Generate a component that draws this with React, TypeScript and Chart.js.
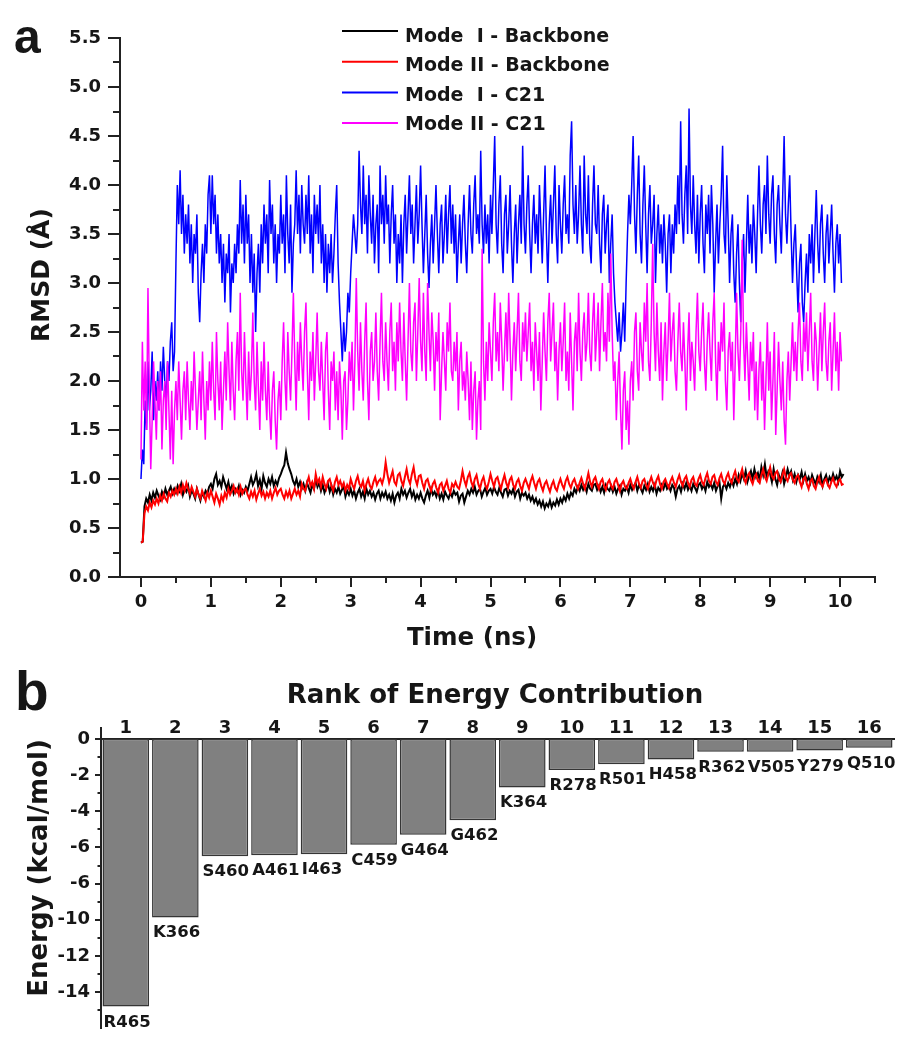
import { useEffect, useRef } from 'react';
import { Chart, registerables } from 'chart.js';

Chart.register(...registerables);

// ---------------- Panel a data ----------------
const SERIES_LABELS = ['Mode  I - Backbone', 'Mode II - Backbone', 'Mode  I - C21', 'Mode II - C21'];
const SERIES_COLORS = ['#000000', '#ff0000', '#0000ff', '#ff00ff'];
const BACKBONE_STEP_NS = 0.025;
const C21_STEP_NS = 0.02;

const modeIBackbone = [
  0.35, 0.36, 0.72, 0.8, 0.76, 0.84, 0.78, 0.86, 0.81, 0.88, 0.83, 0.79, 0.87, 0.82, 0.9, 0.84, 0.88, 0.92, 0.85, 0.9,
  0.86, 0.93, 0.88, 0.95, 0.84, 0.9, 0.87, 0.93, 0.82, 0.88, 0.85, 0.8, 0.9, 0.84, 0.78, 0.86, 0.82, 0.88, 0.85, 0.92,
  0.95, 0.9, 1.0, 1.05, 0.94, 0.98, 0.92, 1.02, 0.96, 0.9, 0.97, 0.88, 0.93, 0.85, 0.9, 0.87, 0.93, 0.84, 0.89, 0.86,
  0.92, 0.88, 0.95, 1.02, 0.94, 0.98, 1.05, 0.93, 0.99, 0.9, 1.03, 0.96, 0.92, 1.0, 0.95, 1.02, 0.93, 0.98, 0.94, 1.01,
  1.05, 1.1, 1.14, 1.27, 1.16, 1.1, 1.05, 0.98, 0.94, 1.0, 0.92, 0.97, 0.9, 0.95, 0.88, 0.96, 0.91, 0.86, 0.94, 0.9,
  1.0, 0.92, 0.96, 0.88, 0.94, 0.86, 0.91, 0.95, 0.87, 0.93, 0.84, 0.9, 0.86, 0.92, 0.85, 0.89, 0.93, 0.82, 0.88, 0.84,
  0.9, 0.83, 0.88, 0.8, 0.86, 0.9, 0.82, 0.87, 0.8, 0.9, 0.84, 0.88, 0.82, 0.86, 0.79, 0.85, 0.88, 0.8, 0.86, 0.82,
  0.87, 0.8, 0.84, 0.78, 0.85, 0.76, 0.83, 0.86, 0.8, 0.9, 0.84, 0.88, 0.81, 0.86, 0.9, 0.82, 0.87, 0.79, 0.84, 0.8,
  0.86, 0.8, 0.76, 0.83, 0.88, 0.81, 0.9, 0.84, 0.87, 0.82, 0.88, 0.8, 0.85, 0.79, 0.87, 0.83, 0.8, 0.86, 0.82, 0.88,
  0.84, 0.86, 0.77, 0.83, 0.85, 0.76, 0.82, 0.88, 0.84, 0.9, 0.86, 0.92, 0.84, 0.88, 0.9, 0.82, 0.87, 0.91, 0.84, 0.88,
  0.9, 0.85, 0.92, 0.87, 0.84, 0.91, 0.86, 0.82, 0.89, 0.9, 0.83, 0.88, 0.85, 0.9, 0.82, 0.87, 0.89, 0.8, 0.86, 0.83,
  0.86, 0.8, 0.84, 0.78, 0.82, 0.76, 0.8, 0.74, 0.78, 0.72, 0.77, 0.7, 0.75, 0.72, 0.78, 0.71, 0.76, 0.73, 0.79, 0.74,
  0.8, 0.76, 0.82, 0.78, 0.85, 0.8, 0.86, 0.83, 0.9, 0.86, 0.92, 0.88, 0.94, 0.89, 0.93, 0.87, 0.95, 0.9, 0.88, 0.94,
  0.95, 0.89, 0.93, 0.87, 0.92, 0.86, 0.94, 0.9, 0.88, 0.93, 0.87, 0.92, 0.85, 0.9, 0.93, 0.84, 0.9, 0.88, 0.92, 0.86,
  0.94, 0.89, 0.93, 0.96, 0.88, 0.94, 0.9, 0.86, 0.93, 0.89, 0.95, 0.87, 0.92, 0.88, 0.94, 0.85, 0.91, 0.88, 0.94, 0.9,
  0.96, 0.9, 0.93, 0.88, 0.94, 0.91, 0.82, 0.9, 0.93, 0.87, 0.95, 0.9, 0.96, 0.89, 0.93, 0.88, 0.95, 0.91, 0.87, 0.94,
  0.96, 0.9, 0.94, 0.88, 0.97, 0.92, 0.95, 0.9, 0.96, 0.88, 0.93, 0.97, 0.8, 0.92, 0.95, 0.9, 0.96, 0.92, 0.98, 0.93,
  1.0, 0.95, 1.04, 0.98, 1.06, 1.0, 1.08, 0.97, 1.03, 1.08, 1.0, 1.1, 1.02, 1.06, 0.99, 1.12, 1.04, 1.15, 1.02, 1.08,
  1.05, 0.97, 1.1, 1.0, 0.94, 1.04, 0.98, 1.06, 0.95, 1.02, 1.1, 1.03, 1.08, 0.99, 1.05, 0.97, 1.04, 1.0, 1.07, 0.98,
  1.05, 0.98, 1.02, 0.96, 1.04, 0.99, 0.95, 1.02, 0.97, 1.04, 0.93, 1.0, 1.04, 0.96, 1.02, 0.98, 1.05, 0.99, 1.03, 0.97,
  1.08, 1.02, 1.05,
];

const modeIIBackbone = [
  0.35, 0.36, 0.65, 0.72, 0.68, 0.76, 0.71, 0.78, 0.74, 0.8, 0.75, 0.83, 0.78, 0.85, 0.8, 0.77, 0.86, 0.82, 0.88, 0.84,
  0.9, 0.85, 0.92, 0.86, 0.94, 0.88, 0.96, 0.9, 0.85, 0.92, 0.87, 0.82, 0.9, 0.84, 0.8, 0.88, 0.83, 0.78, 0.86, 0.81,
  0.88, 0.82, 0.76, 0.85, 0.8, 0.74, 0.83, 0.78, 0.86, 0.81, 0.9, 0.84, 0.88, 0.93, 0.86, 0.9, 0.84, 0.92, 0.85, 0.89,
  0.9, 0.84, 0.8, 0.87, 0.82, 0.88, 0.79, 0.85, 0.9, 0.83, 0.87, 0.8, 0.86, 0.82, 0.88, 0.8, 0.86, 0.91, 0.84, 0.88,
  0.9, 0.84, 0.8, 0.87, 0.82, 0.88, 0.8, 0.85, 0.9, 0.84, 0.88, 0.82, 0.95, 0.9, 0.88, 0.96, 1.02, 0.93, 0.97, 0.9,
  1.05, 0.96, 1.0, 0.92, 1.02, 0.95, 0.9, 0.98, 1.0, 0.93, 0.88, 0.97, 1.02, 0.94, 0.98, 0.92, 0.96, 0.88, 0.94, 0.9,
  1.0, 0.94, 0.9, 0.98, 1.03, 0.95, 0.92, 0.98, 0.88, 0.95, 1.0, 0.93, 0.9, 0.97, 1.02, 0.94, 0.98, 1.0, 0.95, 1.02,
  1.17, 1.05, 0.96, 1.02, 1.08, 0.97, 0.94, 1.04, 1.06, 0.98, 0.93, 1.02, 1.1, 1.0, 0.95, 1.05, 1.12, 1.0, 0.94, 1.03,
  1.04, 0.96, 0.9, 0.98, 1.0, 0.93, 0.88, 0.95, 0.98, 0.91, 0.86, 0.94, 0.96, 0.88, 0.93, 0.98, 0.9, 0.86, 0.95, 0.92,
  0.97, 0.92, 0.9, 0.98, 1.08, 0.99, 0.93, 1.02, 1.06, 0.97, 0.92, 1.0, 1.04, 0.95, 0.9, 0.98, 1.02, 0.94, 0.9, 0.97,
  1.05, 0.98, 0.92, 1.0, 1.02, 0.95, 0.9, 0.98, 1.04, 0.96, 0.91, 0.99, 1.02, 0.94, 0.9, 0.97, 1.0, 0.93, 0.88, 0.96,
  1.0, 0.95, 0.9, 0.98, 1.03, 0.96, 0.9, 0.97, 1.0, 0.93, 0.88, 0.95, 0.98, 0.92, 0.87, 0.94, 0.98, 0.91, 0.88, 0.95,
  1.0, 0.94, 0.9, 0.98, 1.02, 0.95, 0.91, 0.97, 1.0, 0.94, 0.9, 0.96, 1.01, 0.95, 0.9, 0.98, 1.06, 0.97, 0.92, 0.99,
  1.02, 0.95, 0.9, 0.97, 1.0, 0.93, 0.89, 0.96, 0.99, 0.93, 0.9, 0.97, 1.0, 0.94, 0.88, 0.95, 0.98, 0.92, 0.9, 0.96,
  1.0, 0.94, 0.9, 0.97, 1.02, 0.95, 0.91, 0.98, 1.0, 0.94, 0.9, 0.97, 1.02, 0.96, 0.92, 0.99, 1.03, 0.95, 0.9, 0.97,
  1.0, 0.95, 0.91, 0.98, 1.02, 0.96, 0.92, 0.99, 1.04, 0.97, 0.93, 1.0, 1.03, 0.96, 0.92, 0.99, 1.02, 0.95, 0.93, 1.0,
  1.04, 0.97, 0.94, 1.01, 1.06, 0.98, 0.95, 1.02, 1.04, 0.97, 0.94, 1.01, 1.05, 0.98, 0.95, 1.02, 1.06, 0.99, 0.96, 1.03,
  1.08, 1.0, 0.97, 1.04, 1.1, 1.01, 0.96, 1.03, 1.06, 0.99, 0.95, 1.02, 1.05, 0.98, 0.96, 1.04, 1.1, 1.02, 0.98, 1.05,
  1.12, 1.03, 1.0, 1.06, 1.08, 1.0, 0.97, 1.04, 1.1, 1.01, 0.98, 1.04, 1.06, 0.99, 0.96, 1.02, 1.04, 0.97, 0.92, 1.0,
  1.02, 0.95, 0.9, 0.98, 1.0, 0.93, 0.9, 0.97, 1.02, 0.95, 0.92, 0.98, 1.0, 0.94, 0.91, 0.97, 1.01, 0.95, 0.92, 0.98,
  1.0, 0.94, 0.95,
];

const modeIC21 = [
  1.0, 1.3, 1.15, 1.8, 1.5, 2.2, 1.7, 1.9, 2.3, 1.6, 2.0, 1.8, 2.1, 1.7, 2.2, 1.9, 2.35, 2.0, 1.8, 2.2, 2.0, 2.4, 2.6, 2.1, 2.3,
  3.2, 4.0, 3.6, 4.15, 3.5, 3.9, 3.3, 3.7, 3.4, 3.8, 3.2, 3.6, 3.0, 3.5, 3.3, 3.7, 2.9, 2.6, 3.1, 3.4, 3.0, 3.6, 3.3, 3.9, 4.1,
  3.5, 4.1, 3.6, 3.9, 3.3, 3.7, 3.2, 3.5, 3.0, 3.4, 2.8, 3.3, 3.1, 3.5, 2.7, 3.2, 3.0, 3.4, 3.1, 3.6, 3.3, 4.05, 3.4, 3.8, 3.2,
  3.9, 3.4, 3.7, 3.0, 3.5, 2.9, 3.3, 2.5, 3.1, 3.4, 2.9, 3.6, 3.2, 3.8, 3.4, 3.7, 3.1, 4.05, 3.5, 3.8, 3.2, 3.6, 3.0, 3.5, 3.3,
  3.9, 3.4, 3.7, 3.1, 4.1, 3.5, 3.2, 3.8, 2.9, 3.4, 3.6, 4.15, 3.5, 3.9, 3.3, 4.0, 3.6, 3.4, 3.9, 3.5, 4.1, 3.3, 3.7, 3.1, 3.9,
  3.5, 3.8, 3.4, 4.0, 3.2, 3.6, 3.0, 3.5, 2.9, 3.4, 3.1, 3.5, 3.0, 3.3, 3.7, 4.0, 3.2, 2.8, 2.5, 2.2, 2.6, 2.3, 2.5, 2.9, 2.7,
  3.1, 3.4, 3.7, 3.5, 3.3, 3.6, 4.35, 3.8, 3.5, 4.2, 3.6, 3.9, 3.3, 4.1, 3.7, 3.4, 3.9, 3.2, 3.6, 3.8, 3.1, 4.2, 3.6, 3.9, 3.4,
  4.1, 3.6, 3.8, 3.2, 3.7, 4.0, 3.4, 3.7, 3.0, 3.5, 3.2, 3.7, 3.0, 3.6, 3.9, 3.3, 3.7, 4.1, 3.5, 3.8, 3.2, 3.6, 4.0, 3.4, 3.7,
  4.2, 3.6, 3.1, 3.5, 3.9, 3.3, 2.95, 3.4, 3.7, 3.2, 3.6, 4.0, 3.5, 3.1, 3.6, 3.8, 3.2, 3.5, 3.9, 3.3, 3.7, 4.0, 3.4, 3.8, 3.3,
  3.7, 3.0, 3.4, 3.7, 3.2, 3.6, 3.9, 3.4, 3.1, 3.6, 4.0, 3.5, 3.3, 3.8, 4.1, 3.5, 3.7, 3.4, 4.35, 3.6, 3.3, 3.8, 3.4, 3.7, 3.2,
  3.9, 3.5, 4.0, 4.5, 3.6, 3.3, 3.8, 4.1, 3.4, 3.1, 3.7, 3.9, 3.3, 3.6, 4.0, 3.4, 3.0, 3.5, 3.8, 3.2, 3.6, 3.9, 3.4, 4.4, 3.6,
  3.3, 3.8, 4.1, 3.5, 3.1, 3.6, 3.9, 3.4, 3.7, 3.3, 4.0, 3.6, 3.2, 3.7, 4.2, 3.5, 3.0, 3.6, 3.9, 3.4, 3.8, 4.2, 3.5, 3.2, 4.0,
  3.6, 3.3, 3.8, 4.1, 3.5, 3.7, 3.4, 4.3, 4.65, 3.8, 3.5, 4.0, 3.4, 3.7, 4.2, 3.6, 3.3, 4.3, 3.7, 3.5, 4.1, 3.4, 3.2, 3.8, 4.2,
  3.6, 3.5, 4.0, 3.4, 3.1, 3.7, 3.9, 3.3, 3.6, 3.8, 3.0, 3.4, 3.7, 3.1, 2.8, 2.6, 2.4, 2.7, 2.3, 2.5, 2.8, 2.4, 3.0, 3.5, 3.9,
  3.6, 4.0, 4.5, 3.7, 3.3, 3.9, 4.3, 3.5, 3.2, 3.8, 4.2, 3.6, 3.1, 3.7, 4.0, 3.4, 3.6, 3.9, 3.0, 3.5, 3.8, 3.3, 3.6, 3.2, 3.7,
  3.4, 2.9, 3.5, 3.7, 3.1, 3.6, 3.3, 3.8, 3.5, 4.1, 3.6, 4.65, 3.7, 3.4, 3.9, 4.2, 3.5, 4.78, 3.8, 3.5, 4.1, 3.6, 3.3, 3.9, 3.2,
  3.7, 4.0, 3.4, 3.1, 3.8, 3.5, 3.9, 3.3, 4.0, 3.6, 2.9, 3.4, 3.8, 3.2, 3.6, 3.9, 4.4, 3.5, 3.3, 4.1, 3.6, 3.0, 3.5, 3.7, 3.1,
  2.8, 3.3, 3.6, 3.0, 2.6, 3.2, 3.5, 2.9, 3.4, 3.9, 3.3, 3.6, 3.2, 3.8, 3.5, 3.1, 3.7, 4.2, 3.6, 3.3, 3.8, 4.0, 3.5, 4.3, 3.7,
  3.4, 3.9, 4.1, 3.5, 3.2, 3.8, 4.0, 3.6, 3.3, 3.9, 4.5, 3.7, 3.4, 3.8, 4.1, 3.5, 3.0, 3.4, 3.6, 3.1, 2.7, 3.2, 3.4, 2.8, 2.6,
  3.0, 3.3, 2.9, 3.5, 3.2, 3.6, 3.0, 3.5, 3.95, 3.4, 3.1, 3.6, 3.8, 3.3, 3.0, 3.5, 3.7, 3.2, 3.5, 3.8, 3.3, 2.9, 3.4, 3.6, 3.2,
  3.5, 3.0,
];

const modeIIC21 = [
  1.2, 2.4, 1.7, 2.2, 1.5, 2.95, 1.9, 1.1, 1.6, 2.2, 1.8, 1.4, 2.0, 1.7, 2.1, 1.3, 1.8, 2.0, 1.5, 2.2, 1.7, 1.2, 1.9, 1.15, 1.7,
  2.0, 1.6, 2.2, 1.8, 1.4, 1.9, 2.1, 1.6, 2.2, 1.8, 1.5, 2.0, 1.7, 2.3, 1.9, 1.5, 1.8, 2.1, 1.6, 2.3, 1.8, 1.4, 2.0, 1.7, 2.2,
  1.8, 2.4, 1.9, 1.6, 2.5, 2.0, 1.7, 2.2, 1.5, 1.9, 2.3, 1.8, 2.6, 2.1, 1.7, 2.4, 1.9, 1.6, 2.2, 2.5, 1.9, 2.9, 2.1, 1.8, 2.5,
  2.0, 1.6, 2.3, 1.8, 2.1, 2.7, 2.0, 1.7, 2.4, 1.9, 1.5, 2.2, 1.8, 2.4, 1.9, 1.6, 2.2, 1.7, 1.4, 1.9, 2.1, 1.6, 1.3, 1.8, 2.0,
  1.6, 2.2, 2.6, 2.0, 1.7, 2.5, 2.1, 1.8, 2.3, 2.9, 2.2, 1.7, 2.4, 2.0, 2.6, 2.2, 1.9, 2.5, 2.8, 2.1, 1.6, 2.3, 2.0, 2.5, 1.8,
  2.2, 2.7, 2.1, 1.9, 2.4, 2.0, 1.6, 2.3, 2.5, 1.9, 1.5, 2.2, 2.0, 2.3, 1.7, 2.1, 1.6, 2.2, 1.9, 1.4, 2.0, 2.1, 1.5, 1.8, 2.3,
  2.0, 2.4, 1.7, 2.2, 3.05, 2.3, 1.9, 2.6, 2.1, 1.8, 2.4, 2.8, 2.0, 1.6, 2.3, 2.5, 2.0, 2.2, 2.7, 2.1, 1.8, 2.4, 2.9, 2.2, 2.0,
  2.6, 2.2, 1.9, 2.5, 2.8, 2.1, 2.4, 1.9, 2.6, 2.2, 2.8, 2.3, 2.0, 2.7, 2.2, 1.8, 2.4, 3.0, 2.3, 2.1, 2.6, 2.8, 2.0, 2.5, 3.05,
  2.4, 2.1, 2.9, 2.3, 2.0, 3.0, 2.5, 2.1, 2.7, 2.4, 1.9, 2.5, 2.2, 2.7, 1.6, 2.1, 2.5, 2.2, 1.9, 2.6, 2.3, 2.8, 2.1, 2.0, 2.4,
  2.1, 2.5, 1.7, 2.2, 2.4, 1.9, 2.1, 1.8, 2.3, 2.0, 1.6, 2.2, 1.5, 1.9, 2.1, 1.4, 1.8, 2.0, 1.5, 3.35, 2.2, 1.8, 2.4, 2.0, 2.6,
  2.3, 2.0, 2.6, 2.9, 2.2, 2.5, 2.1, 2.8, 2.4, 1.9, 2.3, 2.7, 2.2, 2.9, 2.4, 1.8, 2.3, 2.6, 2.1, 2.5, 2.9, 2.2, 2.0, 2.6, 2.3,
  2.7, 2.2, 2.5, 2.8, 2.1, 2.4, 1.9, 2.6, 2.3, 2.0, 2.5, 1.7, 2.2, 2.7, 2.3, 2.0, 2.6, 2.9, 2.2, 2.5, 2.8, 2.1, 2.4, 1.8, 2.3,
  2.6, 2.1, 2.4, 2.8, 2.0, 2.3, 1.9, 2.7, 2.2, 1.7, 2.4, 2.6, 2.1, 2.9, 2.3, 2.0, 2.5, 2.7, 2.2, 2.4, 2.9, 2.3, 2.1, 2.6, 2.9,
  2.2, 2.5, 2.8, 2.1, 2.6, 3.0, 2.3, 2.5, 2.2, 2.9, 2.4, 3.3, 2.5, 2.0, 2.2, 1.6, 2.0, 2.3, 1.7, 1.3, 1.9, 2.1, 1.5, 1.8, 1.35,
  2.0, 2.2, 1.8, 2.5, 2.7, 2.1, 1.9, 2.6, 2.3, 2.1, 2.8, 2.4, 3.0, 2.2, 2.0, 2.6, 3.4, 2.5, 2.1, 2.8, 2.3, 2.0, 2.6, 1.8, 2.3,
  2.6, 2.0, 2.4, 2.9, 2.2, 2.5, 2.7, 2.1, 1.9, 2.4, 2.8, 2.3, 2.1, 2.6, 2.2, 1.7, 2.3, 2.7, 2.0, 2.4, 2.2, 1.9, 2.5, 2.9, 2.3,
  2.1, 2.5, 2.8, 2.2, 1.9, 2.4, 2.7, 2.3, 2.0, 2.6, 2.9, 2.2, 1.8, 2.4, 2.1, 2.6, 2.3, 2.8, 2.0, 1.7, 2.3, 2.5, 2.1, 2.4, 1.6,
  2.2, 2.9, 2.3, 2.0, 2.5, 3.44, 2.4, 2.0, 2.6, 2.2, 1.8, 2.4, 2.1, 2.5, 1.7, 2.2, 1.6, 2.1, 2.4, 1.8, 2.2, 1.5, 2.0, 2.6, 1.9,
  2.3, 1.6, 2.0, 2.5, 1.45, 1.9, 2.4, 2.0, 1.7, 2.2, 1.6, 1.35, 2.0, 2.3, 1.8, 2.2, 2.6, 2.1, 2.4, 2.0, 2.5, 2.8, 2.2, 2.0, 2.6,
  2.3, 2.7, 2.1, 2.5, 2.9, 2.2, 2.0, 2.6, 2.4, 1.9, 2.3, 2.7, 2.1, 2.5, 2.8, 2.2, 2.0, 2.4, 2.6, 1.9, 2.3, 2.7, 2.1, 2.4, 1.9,
  2.5, 2.2,
];

const SERIES_VALUES = [modeIBackbone, modeIIBackbone, modeIC21, modeIIC21];
const SERIES_STEPS = [BACKBONE_STEP_NS, BACKBONE_STEP_NS, C21_STEP_NS, C21_STEP_NS];
const SERIES_WIDTHS = [2, 2, 1.5, 1.5];
const SERIES_ORDER = [3, 2, 1, 0];

const TIME_MIN = -0.3;
const TIME_MAX = 10.5;
const RMSD_MIN = 0;
const RMSD_MAX = 5.5;
const X_TITLE_A = 'Time (ns)';
const Y_TITLE_A = 'RMSD (Å)';

// ---------------- Panel b data ----------------
const RANKS = ['1', '2', '3', '4', '5', '6', '7', '8', '9', '10', '11', '12', '13', '14', '15', '16'];
const RESIDUES = ['R465', 'K366', 'S460', 'A461', 'I463', 'C459', 'G464', 'G462', 'K364', 'R278', 'R501', 'H458', 'R362', 'V505', 'Y279', 'Q510'];
const ENERGIES = [-14.8, -9.87, -6.49, -6.43, -6.38, -5.85, -5.3, -4.5, -2.68, -1.72, -1.4, -1.13, -0.7, -0.7, -0.64, -0.48];
const ENERGY_TICK_LABELS = ['0', '-2', '-4', '-6', '-6', '-10', '-12', '-14'];
const ENERGY_MIN = -16;
const ENERGY_MAX = 0;
const X_TITLE_B = 'Rank of Energy Contribution';
const Y_TITLE_B = 'Energy (kcal/mol)';

// ---------------- styles ----------------
const AXIS_COLOR = '#222222';
const TEXT_COLOR = '#161616';
const DEJAVU = '"DejaVu Sans", "Liberation Sans", sans-serif';
const ARIAL = '"Liberation Sans", Arial, sans-serif';
const tickFont = (size: number) => ({ family: DEJAVU, size, weight: 'bold' as const });

function drawLine(ctx: CanvasRenderingContext2D, x1: number, y1: number, x2: number, y2: number) {
  ctx.moveTo(x1, y1);
  ctx.lineTo(x2, y2);
}

const panelAPlugin = {
  id: 'panelADecor',
  afterDraw(chart: any) {
    const ctx: CanvasRenderingContext2D = chart.ctx;
    const xs = chart.scales.x;
    const ys = chart.scales.y;
    ctx.save();
    ctx.strokeStyle = AXIS_COLOR;
    ctx.lineWidth = 2;
    ctx.beginPath();
    xs.ticks.forEach((t: any) => {
      const p = Math.round(xs.getPixelForValue(t.value));
      const len = Number.isInteger(t.value) ? 10 : 6;
      drawLine(ctx, p, xs.top, p, xs.top + len);
    });
    ys.ticks.forEach((t: any) => {
      const p = Math.round(ys.getPixelForValue(t.value));
      const len = t.label !== '' ? 12 : 7;
      drawLine(ctx, ys.right, p, ys.right - len, p);
    });
    ctx.stroke();

    ctx.fillStyle = TEXT_COLOR;
    ctx.textBaseline = 'alphabetic';
    ctx.textAlign = 'left';
    ctx.font = `bold 48px ${ARIAL}`;
    ctx.fillText('a', 14, 53);

    ctx.font = `bold 24.5px ${DEJAVU}`;
    ctx.textAlign = 'center';
    ctx.fillText(X_TITLE_A, 472, 645);
    ctx.save();
    ctx.translate(49, 275);
    ctx.rotate(-Math.PI / 2);
    ctx.font = `bold 25px ${DEJAVU}`;
    ctx.fillText(Y_TITLE_A, 0, 0);
    ctx.restore();

    ctx.font = `bold 19px ${DEJAVU}`;
    ctx.textAlign = 'left';
    chart.data.datasets.forEach((ds: any, i: number) => {
      const ly = 31 + i * 30.7;
      ctx.strokeStyle = ds.borderColor;
      ctx.lineWidth = 2;
      ctx.beginPath();
      drawLine(ctx, 342, ly, 398, ly);
      ctx.stroke();
      ctx.fillStyle = TEXT_COLOR;
      ctx.fillText(ds.label, 405, 41.5 + i * 29.5);
    });
    ctx.restore();
  },
};

const panelBPlugin = {
  id: 'panelBDecor',
  afterDraw(chart: any) {
    const ctx: CanvasRenderingContext2D = chart.ctx;
    const ys = chart.scales.y;
    const area = chart.chartArea;
    ctx.save();
    ctx.strokeStyle = AXIS_COLOR;
    ctx.lineWidth = 2;
    ctx.beginPath();
    drawLine(ctx, area.left, area.top - 12, area.left, area.top);
    ys.ticks.forEach((t: any) => {
      if (t.value <= ENERGY_MIN) return;
      const p = Math.round(ys.getPixelForValue(t.value));
      const len = t.value % 2 === 0 ? 6 : 3.5;
      drawLine(ctx, ys.right, p, ys.right - len, p);
    });
    ctx.stroke();

    ctx.fillStyle = TEXT_COLOR;
    ctx.font = `bold 16.5px ${DEJAVU}`;
    ctx.textAlign = 'left';
    ctx.textBaseline = 'alphabetic';
    const meta = chart.getDatasetMeta(0);
    meta.data.forEach((bar: any, i: number) => {
      const { x, y, width } = bar.getProps(['x', 'y', 'width'], true);
      ctx.fillText(RESIDUES[i], x - width / 2 + 1, y + 20);
    });

    ctx.font = `bold 55px ${ARIAL}`;
    ctx.fillText('b', 15, 50);

    ctx.font = `bold 26px ${DEJAVU}`;
    ctx.textAlign = 'center';
    ctx.fillText(X_TITLE_B, 495, 43);
    ctx.save();
    ctx.translate(47, 208);
    ctx.rotate(-Math.PI / 2);
    ctx.fillText(Y_TITLE_B, 0, 0);
    ctx.restore();
    ctx.restore();
  },
};

export default function App() {
  const aRef = useRef<HTMLCanvasElement>(null);
  const bRef = useRef<HTMLCanvasElement>(null);

  useEffect(() => {
    const datasets = SERIES_LABELS.map((label, k) => ({
      label,
      data: SERIES_VALUES[k].map((y, i) => ({ x: Math.round(i * SERIES_STEPS[k] * 1000) / 1000, y })),
      borderColor: SERIES_COLORS[k],
      backgroundColor: SERIES_COLORS[k],
      borderWidth: SERIES_WIDTHS[k],
      pointRadius: 0,
      tension: 0,
      fill: false,
      order: SERIES_ORDER[k],
    }));

    const chartA = new Chart(aRef.current as HTMLCanvasElement, {
      type: 'line',
      data: { datasets },
      options: {
        animation: false,
        responsive: false,
        layout: { padding: { top: 38, right: 37, left: 0, bottom: 0 } },
        plugins: { legend: { display: false }, tooltip: { enabled: false } },
        scales: {
          x: {
            type: 'linear',
            min: TIME_MIN,
            max: TIME_MAX,
            grid: { display: false, drawTicks: false },
            border: { display: true, color: AXIS_COLOR, width: 2 },
            ticks: {
              stepSize: 0.5,
              includeBounds: false,
              autoSkip: false,
              maxRotation: 0,
              color: TEXT_COLOR,
              font: tickFont(18),
              padding: 15,
              callback: (v: any) => (Number.isInteger(Number(v)) ? String(v) : ''),
            },
            afterFit: (s: any) => {
              s.height = 83;
            },
          },
          y: {
            type: 'linear',
            min: RMSD_MIN,
            max: RMSD_MAX,
            grid: { display: false, drawTicks: false },
            border: { display: true, color: AXIS_COLOR, width: 2 },
            ticks: {
              stepSize: 0.25,
              autoSkip: false,
              color: TEXT_COLOR,
              font: tickFont(18),
              padding: 19,
              callback: (v: any) => {
                const n = Number(v);
                return Math.abs(n * 2 - Math.round(n * 2)) < 1e-6 ? n.toFixed(1) : '';
              },
            },
            afterFit: (s: any) => {
              s.width = 120;
            },
          },
        },
      } as any,
      plugins: [panelAPlugin],
    });

    const chartB = new Chart(bRef.current as HTMLCanvasElement, {
      type: 'bar',
      data: {
        labels: RANKS,
        datasets: [
          {
            data: ENERGIES,
            backgroundColor: '#808080',
            borderColor: '#353535',
            borderWidth: 1.5,
            borderSkipped: false,
            barPercentage: 0.94,
            categoryPercentage: 1,
          },
        ],
      },
      options: {
        animation: false,
        responsive: false,
        layout: { padding: { top: 0, right: 18, left: 0, bottom: 13 } },
        plugins: { legend: { display: false }, tooltip: { enabled: false } },
        scales: {
          x: {
            position: 'top',
            grid: { display: false, drawTicks: false },
            border: { display: true, color: AXIS_COLOR, width: 2 },
            ticks: { color: TEXT_COLOR, font: tickFont(18), padding: 0, maxRotation: 0, autoSkip: false },
            afterFit: (s: any) => {
              s.height = 79;
            },
          },
          y: {
            min: ENERGY_MIN,
            max: ENERGY_MAX,
            grid: { display: false, drawTicks: false },
            border: { display: true, color: AXIS_COLOR, width: 2 },
            ticks: {
              stepSize: 1,
              autoSkip: false,
              color: TEXT_COLOR,
              font: tickFont(18),
              padding: 11,
              callback: (v: any) => {
                const n = Number(v);
                if (n % 2 !== 0 || n < -14) return '';
                return ENERGY_TICK_LABELS[Math.round(-n / 2)];
              },
            },
            afterFit: (s: any) => {
              s.width = 101;
            },
          },
        },
      } as any,
      plugins: [panelBPlugin],
    });

    return () => {
      chartA.destroy();
      chartB.destroy();
    };
  }, []);

  return (
    <div style={{ position: 'absolute', left: 0, top: 0, width: 912, height: 1050, background: '#ffffff' }}>
      <canvas
        ref={aRef}
        width={912}
        height={660}
        style={{ position: 'absolute', left: 0, top: 0, width: 912, height: 660, display: 'block' }}
      />
      <canvas
        ref={bRef}
        width={912}
        height={390}
        style={{ position: 'absolute', left: 0, top: 660, width: 912, height: 390, display: 'block' }}
      />
    </div>
  );
}
